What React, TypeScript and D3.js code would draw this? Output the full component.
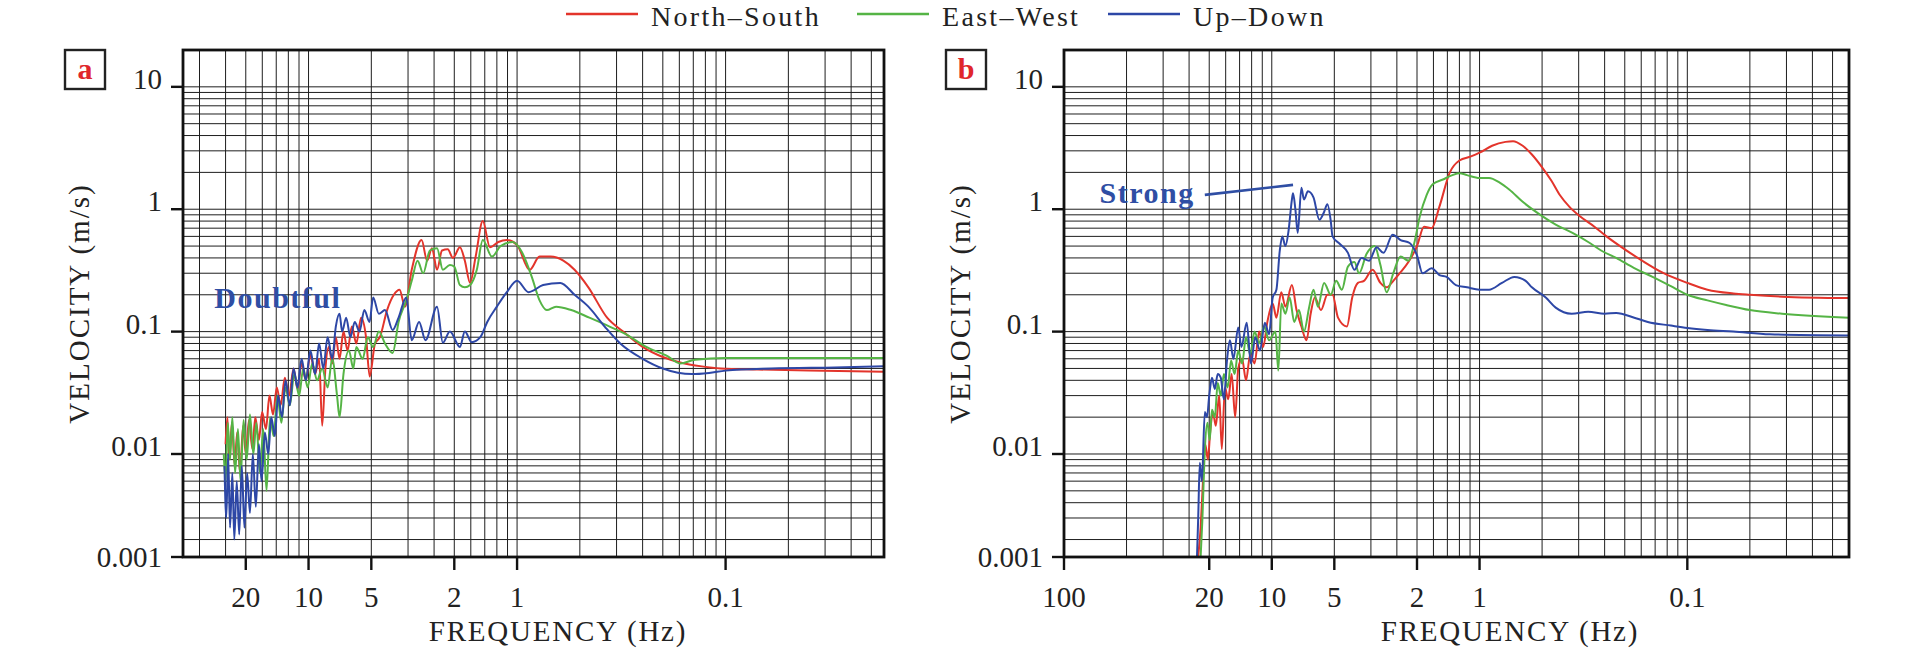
import React from 'react';
import * as d3 from 'd3';

type Pt = [number, number]; // [frequency Hz, velocity m/s]

const seriesNames = ['North–South', 'East–West', 'Up–Down'];
const seriesColors = ['#e3342b', '#55b445', '#2d47a6'];

// panel a
const aNS: Pt[] = [
  [25, 0.012], [24.5, 0.02], [24, 0.009], [23.3, 0.018], [22.6, 0.008], [22, 0.015], [21.3, 0.007],
  [20.6, 0.017], [20, 0.01], [19.3, 0.019], [18.6, 0.011], [18, 0.02], [17.3, 0.013], [16.7, 0.022],
  [16, 0.016], [15.4, 0.03], [14.8, 0.021], [14.2, 0.035], [13.6, 0.025], [13, 0.042], [12.4, 0.03],
  [11.8, 0.05], [11.3, 0.034], [10.8, 0.055], [10.3, 0.04], [9.8, 0.065], [9.3, 0.045], [8.9, 0.06],
  [8.6, 0.017], [8.3, 0.05], [8, 0.075], [7.7, 0.055], [7.4, 0.09], [7.1, 0.06], [6.8, 0.1], [6.5, 0.07],
  [6.2, 0.11], [5.9, 0.08], [5.6, 0.13], [5.3, 0.09], [5.09, 0.043], [4.8, 0.08], [4.55, 0.09],
  [4.2, 0.15], [3.9, 0.2], [3.66, 0.22], [3.45, 0.16], [3.2, 0.32], [2.87, 0.56], [2.7, 0.38],
  [2.56, 0.48], [2.42, 0.32], [2.29, 0.46], [2.15, 0.47], [2.03, 0.4], [1.88, 0.49], [1.78, 0.38],
  [1.68, 0.25], [1.58, 0.41], [1.46, 0.8], [1.35, 0.49], [1.23, 0.54], [1.12, 0.56], [1.0, 0.51],
  [0.87, 0.32], [0.78, 0.41], [0.69, 0.41], [0.6, 0.38], [0.53, 0.32], [0.455, 0.23], [0.37, 0.13],
  [0.31, 0.1], [0.25, 0.075], [0.2, 0.062], [0.165, 0.056], [0.13, 0.052], [0.106, 0.05], [0.07, 0.049],
  [0.04, 0.048], [0.0174, 0.047],
];
const aEW: Pt[] = [
  [25.5, 0.01], [25, 0.006], [24.4, 0.018], [23.8, 0.009], [23.2, 0.02], [22.5, 0.007], [21.8, 0.016],
  [21.2, 0.006], [20.5, 0.019], [19.8, 0.009], [19.1, 0.021], [18.4, 0.01], [17.8, 0.018], [17.1, 0.007],
  [16.5, 0.016], [15.9, 0.005], [15.3, 0.02], [14.7, 0.014], [14.1, 0.03], [13.5, 0.018], [12.9, 0.035],
  [12.3, 0.025], [11.7, 0.045], [11.1, 0.03], [10.6, 0.05], [10.1, 0.035], [9.6, 0.055], [9.1, 0.04],
  [8.6, 0.05], [8.1, 0.035], [7.7, 0.06], [7.3, 0.03], [7.1, 0.02], [6.8, 0.045], [6.4, 0.07], [6.1, 0.05],
  [5.9, 0.075], [5.5, 0.06], [5.2, 0.09], [4.9, 0.075], [4.6, 0.1], [4.3, 0.08], [3.95, 0.067],
  [3.7, 0.12], [3.4, 0.18], [3.2, 0.26], [3.0, 0.38], [2.82, 0.3], [2.62, 0.46], [2.42, 0.48],
  [2.27, 0.32], [2.1, 0.35], [2.0, 0.34], [1.88, 0.24], [1.78, 0.23], [1.68, 0.24], [1.56, 0.32],
  [1.46, 0.56], [1.32, 0.41], [1.2, 0.5], [1.05, 0.54], [0.95, 0.45], [0.85, 0.28], [0.78, 0.18],
  [0.72, 0.15], [0.65, 0.16], [0.55, 0.15], [0.45, 0.13], [0.36, 0.11], [0.3, 0.095], [0.24, 0.075],
  [0.19, 0.063], [0.165, 0.055], [0.14, 0.059], [0.1, 0.061], [0.05, 0.061], [0.0174, 0.061],
];
const aUD: Pt[] = [
  [25.3, 0.008], [24.8, 0.003], [24.3, 0.01], [23.8, 0.0025], [23.2, 0.007], [22.7, 0.002], [22.1, 0.006],
  [21.5, 0.0022], [20.9, 0.008], [20.3, 0.0025], [19.7, 0.007], [19.1, 0.0033], [18.5, 0.01],
  [17.9, 0.0037], [17.3, 0.012], [16.8, 0.006], [16.2, 0.015], [15.6, 0.01], [15.1, 0.02], [14.5, 0.014],
  [14, 0.03], [13.4, 0.02], [12.9, 0.04], [12.3, 0.025], [11.8, 0.05], [11.3, 0.035], [10.8, 0.06],
  [10.3, 0.04], [9.8, 0.07], [9.3, 0.045], [8.9, 0.08], [8.5, 0.05], [8.1, 0.09], [7.7, 0.06], [7.4, 0.11],
  [7.1, 0.14], [6.9, 0.1], [6.6, 0.13], [6.3, 0.09], [6, 0.12], [5.7, 0.1], [5.4, 0.15], [5.1, 0.12],
  [4.9, 0.19], [4.6, 0.14], [4.3, 0.15], [3.95, 0.103], [3.7, 0.13], [3.4, 0.19], [3.2, 0.085],
  [2.95, 0.12], [2.75, 0.085], [2.42, 0.16], [2.27, 0.081], [2.1, 0.1], [1.88, 0.075], [1.78, 0.1],
  [1.65, 0.082], [1.5, 0.09], [1.39, 0.12], [1.25, 0.16], [1.12, 0.21], [1.0, 0.26], [0.88, 0.21],
  [0.75, 0.24], [0.62, 0.25], [0.53, 0.2], [0.455, 0.16], [0.38, 0.11], [0.32, 0.08], [0.25, 0.06],
  [0.2, 0.05], [0.145, 0.045], [0.12, 0.046], [0.1, 0.048], [0.06, 0.05], [0.03, 0.051], [0.0174, 0.052],
];

// panel b
const bNS: Pt[] = [
  [22.6, 0.00145], [22, 0.0025], [21.5, 0.0054], [20.9, 0.012], [20.3, 0.009], [19.8, 0.015],
  [19.2, 0.022], [18.6, 0.017], [17.9, 0.03], [17.4, 0.011], [16.8, 0.035], [16.2, 0.028], [15.6, 0.045],
  [15, 0.02], [14.5, 0.05], [13.9, 0.06], [13.3, 0.04], [12.7, 0.065], [12.1, 0.055], [11.5, 0.1],
  [11, 0.075], [10.5, 0.12], [9.9, 0.17], [9.5, 0.13], [9.0, 0.21], [8.6, 0.16], [8.0, 0.24], [7.6, 0.15],
  [7.2, 0.11], [6.8, 0.085], [6.5, 0.14], [6.2, 0.19], [5.8, 0.15], [5.4, 0.2], [5.1, 0.2], [4.8, 0.13],
  [4.35, 0.11], [4.1, 0.19], [3.85, 0.25], [3.6, 0.26], [3.27, 0.32], [3.0, 0.25], [2.8, 0.23],
  [2.6, 0.26], [2.42, 0.3], [2.2, 0.37], [2.0, 0.5], [1.85, 0.72], [1.7, 0.7], [1.56, 1.05], [1.39, 2.0],
  [1.25, 2.5], [1.1, 2.7], [1.0, 2.9], [0.87, 3.3], [0.75, 3.55], [0.69, 3.6], [0.62, 3.3], [0.56, 2.8],
  [0.5, 2.2], [0.45, 1.7], [0.41, 1.3], [0.37, 1.05], [0.33, 0.88], [0.28, 0.72], [0.245, 0.6],
  [0.2, 0.47], [0.165, 0.38], [0.13, 0.3], [0.1, 0.25], [0.08, 0.22], [0.06, 0.205], [0.05, 0.2],
  [0.035, 0.193], [0.0167, 0.188],
];
const bEW: Pt[] = [
  [22, 0.00145], [21.6, 0.0028], [21, 0.0108], [20.4, 0.018], [19.9, 0.013], [19.4, 0.023], [18.8, 0.02],
  [18.2, 0.038], [17.6, 0.03], [17, 0.045], [16.3, 0.035], [15.7, 0.058], [15.1, 0.045], [14.5, 0.07],
  [13.9, 0.055], [13.3, 0.09], [12.7, 0.065], [12.1, 0.1], [11.5, 0.08], [10.9, 0.11], [10.3, 0.085],
  [9.6, 0.1], [9.3, 0.048], [9.0, 0.17], [8.6, 0.14], [8.2, 0.19], [7.8, 0.12], [7.4, 0.15], [7.0, 0.1],
  [6.6, 0.16], [6.3, 0.22], [6.0, 0.16], [5.6, 0.25], [5.2, 0.2], [4.9, 0.26], [4.6, 0.22], [4.3, 0.34],
  [4.0, 0.37], [3.8, 0.3], [3.5, 0.43], [3.2, 0.5], [3.0, 0.35], [2.8, 0.21], [2.6, 0.3], [2.4, 0.41],
  [2.2, 0.38], [2.05, 0.55], [1.94, 0.87], [1.8, 1.3], [1.68, 1.6], [1.5, 1.75], [1.35, 1.9],
  [1.25, 1.97], [1.15, 1.9], [1.0, 1.8], [0.9, 1.8], [0.8, 1.65], [0.72, 1.45], [0.62, 1.15],
  [0.51, 0.9], [0.43, 0.75], [0.357, 0.64], [0.3, 0.54], [0.26, 0.46], [0.22, 0.4], [0.18, 0.33],
  [0.147, 0.28], [0.12, 0.235], [0.1, 0.2], [0.08, 0.18], [0.065, 0.165], [0.05, 0.15], [0.035, 0.14],
  [0.0167, 0.13],
];
const bUD: Pt[] = [
  [22.9, 0.00145], [22.6, 0.003], [22.2, 0.0085], [21.7, 0.006], [21.0, 0.022], [20.5, 0.02], [20, 0.03],
  [19.4, 0.042], [18.8, 0.034], [18.2, 0.045], [17.6, 0.042], [17, 0.028], [16.4, 0.06], [15.9, 0.085],
  [15.3, 0.06], [14.5, 0.108], [14, 0.075], [13.2, 0.118], [12.6, 0.055], [12, 0.09], [11.4, 0.07],
  [10.8, 0.118], [10.3, 0.095], [9.9, 0.19], [9.5, 0.22], [9.15, 0.46], [8.9, 0.6], [8.6, 0.5], [8.3, 0.67],
  [8.0, 1.2], [7.9, 1.35], [7.7, 1.0], [7.5, 0.64], [7.2, 1.5], [7.0, 1.2], [6.7, 1.4], [6.3, 1.25],
  [5.9, 0.82], [5.6, 0.95], [5.4, 1.1], [5.2, 0.8], [5.1, 0.6], [4.7, 0.52], [4.3, 0.44], [4.0, 0.32],
  [3.7, 0.4], [3.4, 0.38], [3.13, 0.49], [2.9, 0.44], [2.62, 0.62], [2.4, 0.56], [2.17, 0.53], [2.0, 0.42],
  [1.88, 0.3], [1.7, 0.33], [1.56, 0.29], [1.44, 0.28], [1.3, 0.24], [1.15, 0.23], [1.0, 0.22],
  [0.9, 0.22], [0.78, 0.25], [0.68, 0.28], [0.6, 0.26], [0.56, 0.23], [0.48, 0.19], [0.43, 0.157],
  [0.36, 0.14], [0.3, 0.145], [0.25, 0.14], [0.22, 0.142], [0.18, 0.13], [0.155, 0.12], [0.12, 0.112],
  [0.1, 0.107], [0.08, 0.103], [0.06, 0.1], [0.04, 0.095], [0.0167, 0.093],
];

const freqTicksA = [20, 10, 5, 2, 1, 0.1];
const freqTicksB = [100, 20, 10, 5, 2, 1, 0.1];
const velTicks = [10, 1, 0.1, 0.01];
const velBottomLabel = '0.001';

const FONT = '"Liberation Serif", "Times New Roman", serif';
const TOP = 50;
const BOTTOM = 557;
const V_MIN = 0.00144;
const V_MAX = 20;
const NOTE_BLUE = '#2f4ea4';
const GRID = '#1e1e1e';

interface Note {
  text: string;
  at: Pt;
  anchor: 'start' | 'end';
  leader?: [Pt, Pt];
}

interface PanelProps {
  id: string;
  left: number;
  right: number;
  tMin: number; // period domain (s) = 1 / frequency
  tMax: number;
  freqTicks: number[];
  series: Pt[][];
  letter: string;
  titleX: number;
  note: Note;
}

const Panel: React.FC<PanelProps> = ({ id, left, right, tMin, tMax, freqTicks, series, letter, titleX, note }) => {
  const x = d3.scaleLog().domain([tMin, tMax]).range([left, right]);
  const y = d3.scaleLog().domain([V_MIN, V_MAX]).range([BOTTOM, TOP]);
  const line = d3.line<Pt>()
    .x(d => x(1 / d[0]))
    .y(d => y(d[1]))
    .curve(d3.curveMonotoneX);

  // log grid: 1..9 x 10^n (default tick count keeps d3 on the log branch)
  const vGrid = x.ticks().filter(t => x(t) > left + 1 && x(t) < right - 1);
  const hGrid = y.ticks().filter(v => v <= 10.0001 && y(v) < BOTTOM - 1);

  return (
    <g>
      <defs>
        <clipPath id={`clip-${id}`}>
          <rect x={left} y={TOP} width={right - left} height={BOTTOM - TOP} />
        </clipPath>
      </defs>

      {/* grid */}
      {vGrid.map((t, i) => (
        <line key={`v${i}`} x1={x(t)} x2={x(t)} y1={TOP} y2={BOTTOM} stroke={GRID} strokeWidth={1} />
      ))}
      {hGrid.map((v, i) => (
        <line key={`h${i}`} x1={left} x2={right} y1={y(v)} y2={y(v)} stroke={GRID} strokeWidth={1} />
      ))}

      {/* curves */}
      <g clipPath={`url(#clip-${id})`}>
        {series.map((s, i) => (
          <path key={i} d={line(s) || ''} fill="none" stroke={seriesColors[i]} strokeWidth={2} strokeLinejoin="round" />
        ))}
      </g>

      {/* frame */}
      <rect x={left} y={TOP} width={right - left} height={BOTTOM - TOP} fill="none" stroke="#111" strokeWidth={2.8} />

      {/* x ticks */}
      {freqTicks.map(f => (
        <g key={`xt${f}`}>
          <line x1={x(1 / f)} x2={x(1 / f)} y1={BOTTOM} y2={BOTTOM + 13} stroke="#111" strokeWidth={2.4} />
          <text x={x(1 / f)} y={BOTTOM + 50} textAnchor="middle" fontFamily={FONT} fontSize={29} fill="#222">
            {String(f)}
          </text>
        </g>
      ))}

      {/* y ticks */}
      {velTicks.map(v => (
        <g key={`yt${v}`}>
          <line x1={left - 12} x2={left} y1={y(v)} y2={y(v)} stroke="#111" strokeWidth={2.4} />
          <text x={left - 21} y={y(v) + 2} textAnchor="end" fontFamily={FONT} fontSize={29} fill="#222">
            {String(v)}
          </text>
        </g>
      ))}
      <line x1={left - 12} x2={left} y1={y(V_MIN)} y2={y(V_MIN)} stroke="#111" strokeWidth={2.4} />
      <text x={left - 21} y={y(V_MIN) + 10} textAnchor="end" fontFamily={FONT} fontSize={29} fill="#222">
        {velBottomLabel}
      </text>

      {/* axis titles */}
      <text x={titleX} y={641} textAnchor="middle" fontFamily={FONT} fontSize={29} letterSpacing={1.8} fill="#222">
        FREQUENCY (Hz)
      </text>
      <text
        transform={`translate(${left - 94},${(TOP + BOTTOM) / 2}) rotate(-90)`}
        textAnchor="middle"
        fontFamily={FONT}
        fontSize={29}
        letterSpacing={2}
        fill="#222"
      >
        VELOCITY (m/s)
      </text>

      {/* panel letter */}
      <rect x={left - 118} y={TOP} width={40} height={39} fill="#fff" stroke="#222" strokeWidth={2.4} />
      <text x={left - 98} y={TOP + 29} textAnchor="middle" fontFamily={FONT} fontWeight="bold" fontSize={30} fill="#e0262b">
        {letter}
      </text>

      {/* annotation */}
      {note.leader && (
        <line
          x1={x(1 / note.leader[0][0])}
          y1={y(note.leader[0][1])}
          x2={x(1 / note.leader[1][0])}
          y2={y(note.leader[1][1])}
          stroke={NOTE_BLUE}
          strokeWidth={2.6}
        />
      )}
      <text
        x={x(1 / note.at[0])}
        y={y(note.at[1])}
        textAnchor={note.anchor}
        fontFamily={FONT}
        fontWeight="bold"
        fontSize={30}
        letterSpacing={1.5}
        fill={NOTE_BLUE}
      >
        {note.text}
      </text>
    </g>
  );
};

const legendX = [566, 857, 1108];

export default function App() {
  return (
    <svg
      width={1920}
      height={651}
      viewBox="0 0 1920 651"
      style={{ position: 'absolute', left: 0, top: 0, background: '#fff' }}
    >
      {/* legend */}
      {seriesNames.map((name, i) => (
        <g key={name}>
          <line x1={legendX[i]} x2={legendX[i] + 72} y1={14} y2={14} stroke={seriesColors[i]} strokeWidth={2.6} />
          <text x={legendX[i] + 85} y={26} fontFamily={FONT} fontSize={28} letterSpacing={2.3} fill="#222">
            {name}
          </text>
        </g>
      ))}

      <Panel
        id="a"
        left={183}
        right={884}
        tMin={0.025}
        tMax={57.5}
        freqTicks={freqTicksA}
        series={[aNS, aEW, aUD]}
        letter="a"
        titleX={558}
        note={{ text: 'Doubtful', at: [28.3, 0.156], anchor: 'start' }}
      />
      <Panel
        id="b"
        left={1064}
        right={1849}
        tMin={0.01}
        tMax={60}
        freqTicks={freqTicksB}
        series={[bNS, bEW, bUD]}
        letter="b"
        titleX={1510}
        note={{ text: 'Strong', at: [23.5, 1.12], anchor: 'end', leader: [[21, 1.31], [7.9, 1.58]] }}
      />
    </svg>
  );
}
